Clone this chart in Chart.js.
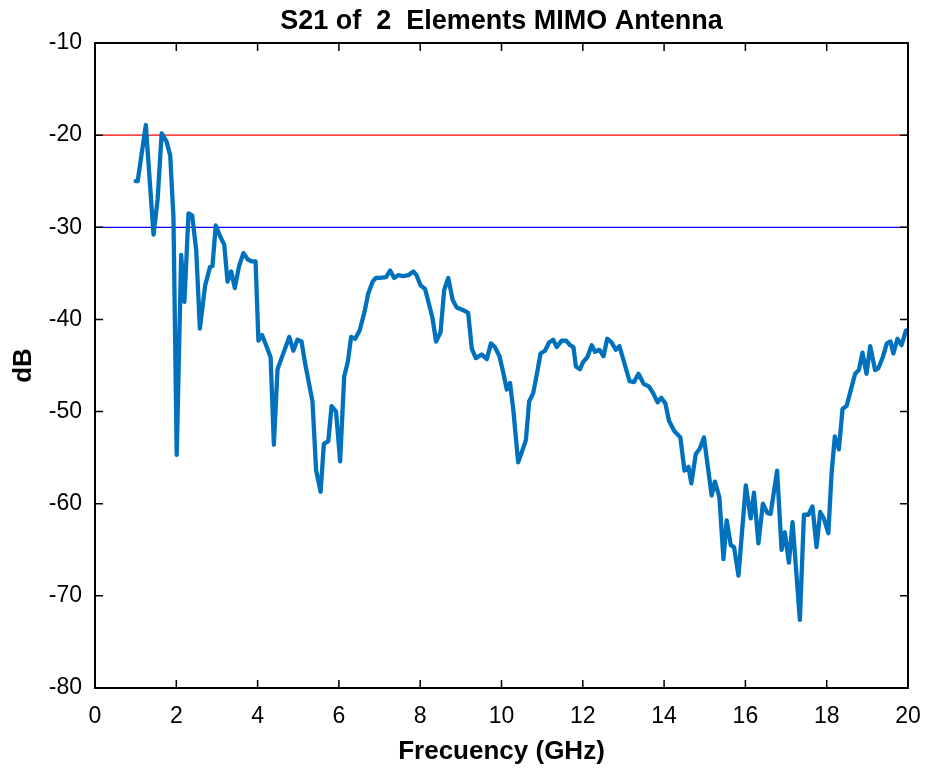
<!DOCTYPE html>
<html>
<head>
<meta charset="utf-8">
<script src="https://cdn.jsdelivr.net/npm/chart.js@4"></script>
<style>
  html, body { margin: 0; padding: 0; background: #fff; }
  #wrap { width: 938px; height: 772px; }
</style>
</head>
<body>
<div id="wrap"><canvas id="chart"></canvas></div>
<script>
// S21 curve (GHz, dB)
const freq = [
  1.00, 1.05, 1.25, 1.44, 1.54, 1.64, 1.76, 1.85, 1.93, 2.01,
  2.12, 2.20, 2.30, 2.39, 2.49, 2.58, 2.71, 2.83, 2.89, 2.97,
  3.08, 3.18, 3.26, 3.35, 3.44, 3.54, 3.65, 3.76, 3.85, 3.95,
  4.02, 4.11, 4.20, 4.32, 4.40, 4.49, 4.59, 4.78, 4.88, 4.98,
  5.08, 5.17, 5.35, 5.44, 5.55, 5.63, 5.74, 5.82, 5.93, 6.03,
  6.13, 6.22, 6.30, 6.40, 6.51, 6.63, 6.72, 6.83, 6.91, 7.01,
  7.16, 7.26, 7.36, 7.46, 7.58, 7.71, 7.83, 7.91, 8.01, 8.12,
  8.22, 8.30, 8.39, 8.50, 8.59, 8.69, 8.80, 8.90, 9.06, 9.18,
  9.27, 9.37, 9.51, 9.64, 9.74, 9.84, 9.95, 10.04, 10.13, 10.21,
  10.29, 10.41, 10.50, 10.60, 10.68, 10.78, 10.88, 10.96, 11.07, 11.17,
  11.27, 11.36, 11.48, 11.59, 11.69, 11.77, 11.83, 11.93, 12.01, 12.11,
  12.22, 12.30, 12.41, 12.51, 12.60, 12.71, 12.81, 12.90, 13.02, 13.15,
  13.26, 13.37, 13.50, 13.63, 13.73, 13.84, 13.93, 14.03, 14.12, 14.25,
  14.40, 14.50, 14.60, 14.67, 14.78, 14.88, 14.98, 15.17, 15.25, 15.36,
  15.46, 15.54, 15.64, 15.72, 15.83, 16.01, 16.13, 16.21, 16.32, 16.43,
  16.54, 16.62, 16.78, 16.89, 16.97, 17.07, 17.16, 17.34, 17.44, 17.55,
  17.65, 17.75, 17.84, 17.93, 18.04, 18.12, 18.20, 18.30, 18.39, 18.49,
  18.59, 18.70, 18.79, 18.88, 18.98, 19.07, 19.19, 19.27, 19.38, 19.48,
  19.57, 19.64, 19.74, 19.84, 19.95, 20.00
];
const s21 = [
  -25.0, -25.0, -18.9, -30.8, -27.0, -19.8, -20.7, -22.2, -28.9, -54.7,
  -33.0, -38.1, -28.5, -28.7, -32.5, -41.0, -36.3, -34.3, -34.2, -29.8,
  -31.0, -31.9, -35.9, -34.8, -36.6, -34.3, -32.8, -33.5, -33.7, -33.7,
  -42.3, -41.7, -42.7, -44.1, -53.6, -45.4, -44.2, -41.9, -43.4, -42.2,
  -42.4, -44.8, -48.9, -56.4, -58.7, -53.5, -53.2, -49.4, -50.0, -55.4,
  -46.2, -44.6, -41.9, -42.1, -41.2, -39.2, -37.2, -35.9, -35.5, -35.5,
  -35.4, -34.7, -35.5, -35.2, -35.3, -35.2, -34.8, -35.2, -36.3, -36.7,
  -38.4, -39.8, -42.4, -41.4, -36.8, -35.5, -37.9, -38.7, -39.0, -39.3,
  -43.2, -44.2, -43.8, -44.3, -42.6, -43.0, -44.0, -45.7, -47.6, -46.9,
  -49.8, -55.5, -54.4, -53.1, -48.9, -48.0, -45.7, -43.7, -43.4, -42.5,
  -42.2, -43.0, -42.3, -42.3, -42.8, -43.0, -45.1, -45.4, -44.6, -44.1,
  -42.8, -43.5, -43.3, -44.0, -42.1, -42.5, -43.3, -42.9, -44.7, -46.7,
  -46.8, -45.9, -47.0, -47.3, -48.0, -49.0, -48.5, -49.1, -51.0, -52.1,
  -52.8, -56.4, -56.0, -57.8, -54.6, -54.0, -52.8, -59.1, -57.6, -59.3,
  -66.0, -61.8, -64.5, -64.7, -67.8, -58.0, -61.6, -58.8, -64.3, -60.0,
  -61.0, -61.1, -56.4, -65.0, -63.1, -66.4, -62.0, -72.6, -61.2, -61.2,
  -60.3, -64.7, -60.9, -61.6, -63.2, -56.7, -52.7, -54.1, -49.7, -49.4,
  -47.7, -45.9, -45.5, -43.6, -45.9, -42.9, -45.5, -45.3, -44.1, -42.6,
  -42.4, -43.7, -42.1, -42.8, -41.2, -41.2
];

// horizontal reference levels
const refFreq = [0, 20];
const redLevel = -20;
const blueLevel = -30;

const xTicks = [0, 2, 4, 6, 8, 10, 12, 14, 16, 18, 20];
const yTicks = [-80, -70, -60, -50, -40, -30, -20, -10];

const fontFamily = "'Liberation Sans', Arial, Helvetica, sans-serif";

// MATLAB-style box with ticks pointing inward
const boxTicks = {
    id: 'boxTicks',
    afterDatasetsDraw(chart) {
        const { ctx, chartArea: a, scales: { x, y } } = chart;
        const len = 8;
        ctx.save();
        ctx.strokeStyle = '#000';
        ctx.lineWidth = 1.5;
        ctx.beginPath();
        xTicks.forEach(v => {
            const px = x.getPixelForValue(v);
            ctx.moveTo(px, a.bottom); ctx.lineTo(px, a.bottom - len);
            ctx.moveTo(px, a.top); ctx.lineTo(px, a.top + len);
        });
        yTicks.forEach(v => {
            const py = y.getPixelForValue(v);
            ctx.moveTo(a.left, py); ctx.lineTo(a.left + len, py);
            ctx.moveTo(a.right, py); ctx.lineTo(a.right - len, py);
        });
        ctx.stroke();
        ctx.lineWidth = 2;
        ctx.strokeRect(a.left, a.top, a.right - a.left, a.bottom - a.top);
        ctx.restore();
    }
};

const data = {
    datasets: [
        {
            label: 'S21',
            data: freq.map((f, i) => ({ x: f, y: s21[i] })),
            borderColor: '#0072BD',
            borderWidth: 4.3,
            borderJoinStyle: 'round',
            borderCapStyle: 'round',
            pointRadius: 0,
            tension: 0,
            order: 0
        },
        {
            label: '-20 dB',
            data: refFreq.map(f => ({ x: f, y: redLevel })),
            borderColor: '#ff0000',
            borderWidth: 1.3,
            pointRadius: 0,
            order: 1
        },
        {
            label: '-30 dB',
            data: refFreq.map(f => ({ x: f, y: blueLevel })),
            borderColor: '#0000ff',
            borderWidth: 1.3,
            pointRadius: 0,
            order: 2
        }
    ]
};

const config = {
    type: 'line',
    data: data,
    options: {
        responsive: true,
        maintainAspectRatio: false,
        animation: false,
        layout: { padding: { left: 0, right: 30, top: 0, bottom: 0 } },
        plugins: {
            legend: { display: false },
            tooltip: { enabled: false },
            title: {
                display: true,
                text: 'S21 of  2  Elements MIMO Antenna',
                fullSize: false,
                color: '#000',
                padding: { top: 5, bottom: 5.6 },
                font: { family: fontFamily, size: 27, weight: 'bold', lineHeight: 1.2 }
            }
        },
        scales: {
            x: {
                type: 'linear',
                min: 0,
                max: 20,
                grid: { display: false, drawTicks: false },
                border: { display: false },
                afterBuildTicks: s => { s.ticks = xTicks.map(v => ({ value: v })); },
                afterFit: s => { s.height = 84; },
                ticks: {
                    color: '#000',
                    padding: 15,
                    maxRotation: 0,
                    font: { family: fontFamily, size: 23 }
                },
                title: {
                    display: true,
                    text: 'Frecuency (GHz)',
                    color: '#000',
                    padding: { top: 0, bottom: 5 },
                    font: { family: fontFamily, size: 26, weight: 'bold' }
                }
            },
            y: {
                min: -80,
                max: -10,
                grid: { display: false, drawTicks: false },
                border: { display: false },
                afterBuildTicks: s => { s.ticks = yTicks.map(v => ({ value: v })); },
                afterFit: s => { s.width = 95; },
                ticks: {
                    color: '#000',
                    padding: 13,
                    font: { family: fontFamily, size: 23 }
                },
                title: {
                    display: true,
                    text: 'dB',
                    color: '#000',
                    padding: { top: 8, bottom: 0 },
                    font: { family: fontFamily, size: 26, weight: 'bold' }
                }
            }
        }
    },
    plugins: [boxTicks]
};

new Chart(document.getElementById('chart'), config);
</script>
</body>
</html>
